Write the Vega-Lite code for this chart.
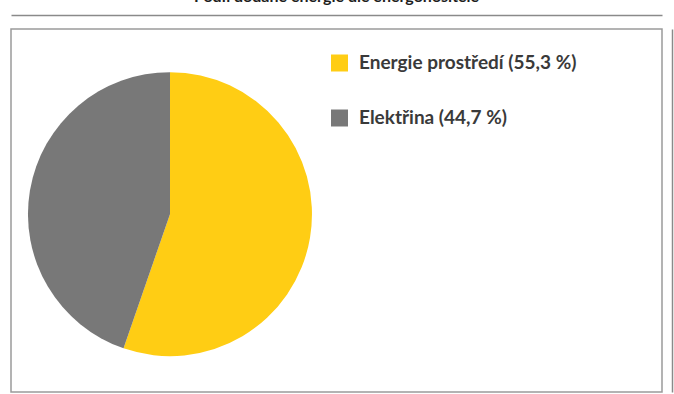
{
  "$schema": "https://vega.github.io/schema/vega-lite/v6.json",
  "width": 651,
  "height": 363,
  "autosize": "none",
  "padding": {"left": 11, "top": 29, "right": 12, "bottom": 2},
  "background": "white",
  "title": {"text": "Podíl dodané energie dle energonositele", "font": "Lato", "fontSize": 16, "fontWeight": "bold", "color": "#1e1e1e", "anchor": "middle", "offset": 10},
  "data": {"values": [
    {"nositel": "Energie prostředí (55,3 %)", "podil": 55.3},
    {"nositel": "Elektřina (44,7 %)", "podil": 44.7}
  ]},
  "mark": {"type": "arc", "outerRadius": 142},
  "encoding": {
    "theta": {"field": "podil", "type": "quantitative", "stack": true},
    "order": {"field": "podil", "sort": "descending"},
    "color": {
      "field": "nositel", "type": "nominal", "sort": null,
      "scale": {"domain": ["Energie prostředí (55,3 %)", "Elektřina (44,7 %)"], "range": ["#FFCD14", "#787878"]},
      "legend": {"title": null, "orient": "none", "legendX": 319, "legendY": 24.5, "symbolType": "square", "symbolSize": 289, "symbolStrokeWidth": 0, "symbolOpacity": 1, "labelFont": "Lato", "labelFontSize": 19, "labelFontWeight": "bold", "labelColor": "#3a3a3a", "labelOffset": 10, "labelLimit": 0, "rowPadding": 35}
    },
    "x": {"datum": 0.2442, "type": "quantitative", "scale": {"domain": [0, 1], "nice": false, "zero": false},
      "axis": {"orient": "top", "offset": 14, "domain": true, "domainColor": "#8a8a8a", "domainWidth": 1.5, "ticks": false, "labels": false, "grid": false, "title": null}},
    "y": {"datum": 0.49, "type": "quantitative", "scale": {"domain": [0, 1], "nice": false, "zero": false},
      "axis": {"orient": "right", "offset": 10, "domain": true, "domainColor": "#8a8a8a", "domainWidth": 1.5, "ticks": false, "labels": false, "grid": false, "title": null}}
  },
  "config": {"view": {"stroke": "#9a9a9a", "strokeWidth": 1.5}}
}
